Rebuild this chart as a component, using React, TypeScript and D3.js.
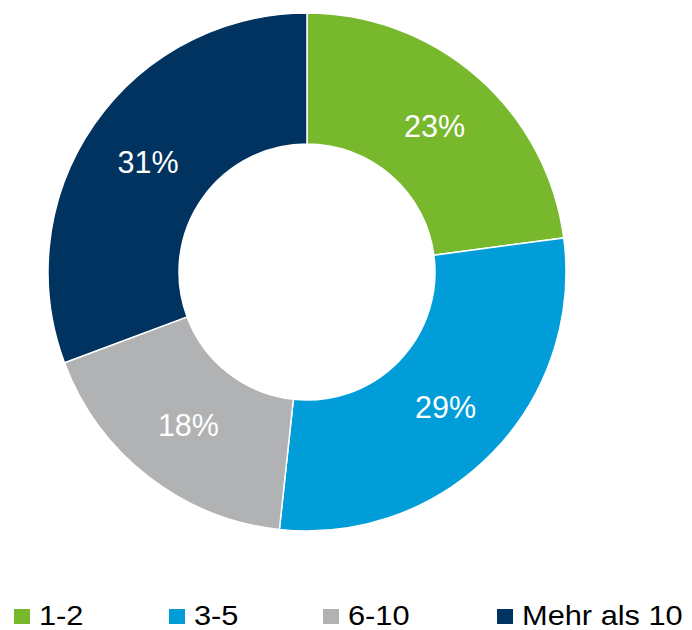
import React from "react";
import * as d3 from "d3";

const categories = ["1-2", "3-5", "6-10", "Mehr als 10"];
const values = [22.9, 28.8, 17.6, 30.7];
const labels = ["23%", "29%", "18%", "31%"];
const colors = ["#77B82C", "#009DD9", "#B1B2B4", "#00335F"];
const legendX = [14, 169, 323, 497];

export default function App() {
  const W = 692, H = 630;
  const cx = 307, cy = 272, R = 259, r = 128;
  const pie = d3.pie<number>().sort(null).value((d) => d)(values);
  const arc = d3.arc<d3.PieArcDatum<number>>().innerRadius(r).outerRadius(R);
  const font = "'Liberation Sans', Arial, sans-serif";
  return (
    <svg width={W} height={H} style={{ position: "absolute", left: 0, top: 0 }}>
      <rect width={W} height={H} fill="#fff" />
      <g transform={`translate(${cx},${cy})`}>
        {pie.map((p, i) => (
          <path key={i} d={arc(p) || ""} fill={colors[i]} stroke="#fff" strokeWidth={1.5} />
        ))}
        {pie.map((p, i) => {
          const [x, y] = arc.centroid(p);
          return (
            <text key={i} x={x} y={y} dy="0.36em" textAnchor="middle" fill="#fff" fontFamily={font} fontSize={30.5}>
              {labels[i]}
            </text>
          );
        })}
      </g>
      {categories.map((c, i) => (
        <g key={c}>
          <rect x={legendX[i]} y={609} width={16} height={15} fill={colors[i]} />
          <text
            transform={`translate(${legendX[i] + 25},624.5) scale(1.14,1)`}
            fontFamily={font}
            fontSize={27}
            fill="#000"
          >
            {c}
          </text>
        </g>
      ))}
    </svg>
  );
}
